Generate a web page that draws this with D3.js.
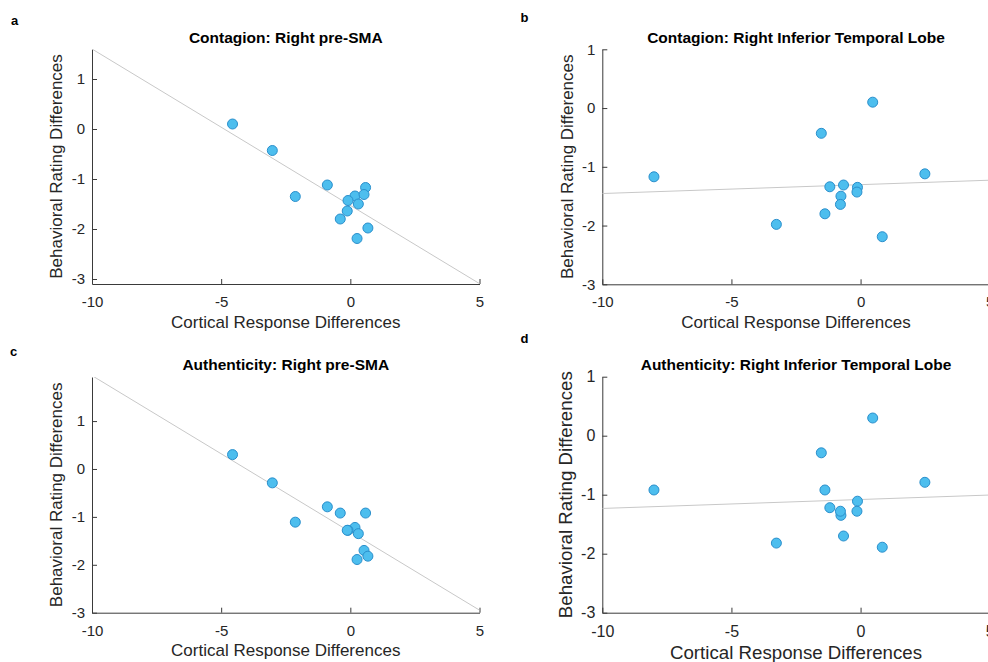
<!DOCTYPE html>
<html>
<head>
<meta charset="utf-8">
<script src="https://cdn.jsdelivr.net/npm/d3@7"></script>
<style>
  body { margin: 0; background: #fff; }
  text { font-family: "Liberation Sans", Arial, Helvetica, sans-serif; }
</style>
</head>
<body>
<div id="chart"></div>
<script>
// Chart data (one entry per subject)
var preSMA = [-4.56, -3.02, -2.13, -0.89, 0.59, 0.18, 0.53, -0.09, 0.31, -0.12, -0.39, 0.68, 0.26];
var inferiorTemporal = [0.47, -1.52, -0.12, 2.49, -8.0, -1.19, -0.66, -0.14, -0.76, -0.78, -1.38, -3.26, 0.84];
var contagion = [0.10, -0.43, -1.35, -1.12, -1.17, -1.34, -1.31, -1.43, -1.50, -1.64, -1.80, -1.98, -2.19];
var authenticity = [0.30, -0.29, -1.11, -0.79, -0.92, -1.22, -1.70, -1.28, -1.35, -1.28, -0.92, -1.82, -1.89];

var xTicks = [-10, -5, 0, 5];
var yTicks = [-3, -2, -1, 0, 1];
var xDomain = [-10, 5];

var titles = ["Contagion: Right pre-SMA", "Contagion: Right Inferior Temporal Lobe",
              "Authenticity: Right pre-SMA", "Authenticity: Right Inferior Temporal Lobe"];
var letters = ["a", "b", "c", "d"];
var xLabel = "Cortical Response Differences";
var yLabel = "Behavioral Rating Differences";

// Chart Params
var svgWidth = 988;
var svgHeight = 662;

var svg = d3.select("#chart")
    .append("svg")
    .attr("width", svgWidth)
    .attr("height", svgHeight);

// panel layout
var panels = [
    {x: preSMA, y: contagion, yDomain: [-3.1, 1.6],
     left: 92, right: 479.5, top: 49, bottom: 284,
     letterPos: [11, 25], titleY: 42.7, xLabelY: 328, yLabelX: 62.3, labelSize: 17, tickSize: 15},
    {x: inferiorTemporal, y: contagion, yDomain: [-3, 1],
     left: 602.3, right: 989.7, top: 49.3, bottom: 284.3,
     letterPos: [520.5, 22.3], titleY: 42.7, xLabelY: 328, yLabelX: 573.3, labelSize: 17, tickSize: 15},
    {x: preSMA, y: authenticity, yDomain: [-3, 1.92],
     left: 92, right: 479.5, top: 377, bottom: 612.7,
     letterPos: [10, 356], titleY: 370.3, xLabelY: 656, yLabelX: 62.3, labelSize: 17, tickSize: 15},
    {x: inferiorTemporal, y: authenticity, yDomain: [-3, 1],
     left: 602.3, right: 989.7, top: 376.7, bottom: 612.7,
     letterPos: [520.5, 342.7], titleY: 370.3, xLabelY: 659.3, yLabelX: 571.7, labelSize: 18.7, tickSize: 16}
];

// least squares fit
function fitLine(xs, ys) {
    var mx = d3.mean(xs), my = d3.mean(ys);
    var sxy = d3.sum(xs, (d, i) => (d - mx) * (ys[i] - my));
    var sxx = d3.sum(xs, d => (d - mx) * (d - mx));
    var slope = sxy / sxx;
    return {slope: slope, intercept: my - slope * mx};
}

panels.forEach(function(p, k) {
    var x = d3.scaleLinear().domain(xDomain).range([p.left, p.right]);
    var y = d3.scaleLinear().domain(p.yDomain).range([p.bottom, p.top]);
    var points = p.x.map((d, i) => ({cx: d, cy: p.y[i]}));

    var g = svg.append("g");

    // clip for the fit line
    g.append("clipPath")
        .attr("id", "clip" + k)
        .append("rect")
        .attr("x", p.left).attr("y", p.top)
        .attr("width", p.right - p.left).attr("height", p.bottom - p.top);

    // axes
    var bottomAxis = d3.axisBottom(x)
        .tickValues(xTicks)
        .tickSizeInner(-5)
        .tickSizeOuter(0)
        .tickPadding(12.5)
        .tickFormat(d => String(d));
    var leftAxis = d3.axisLeft(y)
        .tickValues(yTicks)
        .tickSizeInner(-5)
        .tickSizeOuter(0)
        .tickPadding(7)
        .tickFormat(d => String(d));

    var xAxis = g.append("g")
        .attr("transform", `translate(0, ${p.bottom})`)
        .call(bottomAxis);
    var yAxis = g.append("g")
        .attr("transform", `translate(${p.left}, 0)`)
        .call(leftAxis);

    [xAxis, yAxis].forEach(function(a) {
        a.select(".domain").attr("stroke", "#3a3a3a");
        a.selectAll(".tick line").attr("stroke", "#3a3a3a");
        a.selectAll(".tick text")
            .attr("fill", "#262626")
            .attr("font-size", p.tickSize + "px");
    });

    // regression line
    var fit = fitLine(p.x, p.y);
    g.append("line")
        .attr("clip-path", `url(#clip${k})`)
        .attr("x1", x(xDomain[0]))
        .attr("y1", y(fit.intercept + fit.slope * xDomain[0]))
        .attr("x2", x(xDomain[1]))
        .attr("y2", y(fit.intercept + fit.slope * xDomain[1]))
        .attr("stroke", "#c8c8c8")
        .attr("stroke-width", 1);

    // Add dots
    g.selectAll("circle")
        .data(points)
        .enter()
        .append("circle")
        .attr("cx", d => x(d.cx))
        .attr("cy", d => y(d.cy))
        .attr("r", 5)
        .attr("fill", "#4DBEEE")
        .attr("stroke", "#2A8FCC")
        .attr("stroke-width", 1);

    // title
    g.append("text")
        .attr("x", (p.left + p.right) / 2)
        .attr("y", p.titleY)
        .attr("text-anchor", "middle")
        .attr("font-size", "15.5px")
        .attr("font-weight", "bold")
        .attr("fill", "#000")
        .text(titles[k]);

    // panel letter
    g.append("text")
        .attr("x", p.letterPos[0])
        .attr("y", p.letterPos[1])
        .attr("font-size", "13px")
        .attr("font-weight", "bold")
        .attr("fill", "#000")
        .text(letters[k]);

    // axis labels
    g.append("text")
        .attr("x", (p.left + p.right) / 2)
        .attr("y", p.xLabelY)
        .attr("text-anchor", "middle")
        .attr("font-size", p.labelSize + "px")
        .attr("fill", "#262626")
        .text(xLabel);

    g.append("text")
        .attr("transform", `translate(${p.yLabelX}, ${(p.top + p.bottom) / 2}) rotate(-90)`)
        .attr("text-anchor", "middle")
        .attr("font-size", p.labelSize + "px")
        .attr("fill", "#262626")
        .text(yLabel);
});
</script>
</body>
</html>
